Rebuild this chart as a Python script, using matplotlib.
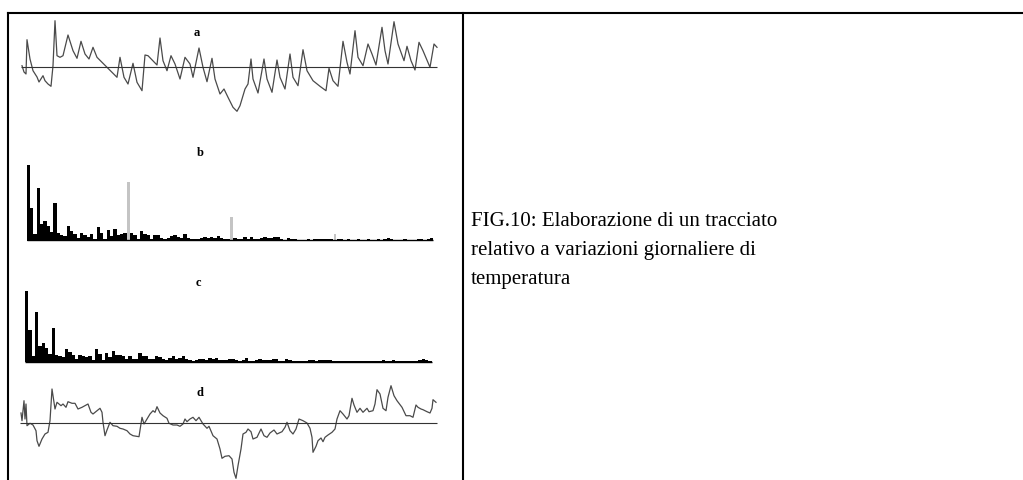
import matplotlib
matplotlib.use("Agg")
import matplotlib.pyplot as plt
from matplotlib.lines import Line2D

# (a) daily temperature record, anomaly around mean
days_a = [1, 3, 5, 6, 9, 12, 16, 18, 22, 24, 27, 30, 32, 34, 36, 39, 42, 47, 52, 56,
          60, 64, 68, 72, 76, 86, 96, 99, 103, 107, 112, 116, 121, 124, 127, 136, 139,
          142, 146, 150, 154, 159, 164, 169, 172, 178, 182, 186, 191, 194, 199, 203,
          207, 212, 216, 219, 224, 227, 230, 232, 237, 243, 246, 251, 256, 259, 264,
          269, 272, 277, 282, 286, 292, 299, 305, 308, 312, 317, 322, 326, 329, 334,
          337, 342, 347, 351, 355, 361, 364, 367, 373, 377, 383, 386, 390, 394, 398,
          402, 409, 413, 416]
temp_a = [1.3, -5, -7, 27.3, 8, -3.7, -10, -15, -8.7, -13.7, -17, -19.3, 1.3, 46.3,
          11.3, 9.7, 11.3, 32, 16.3, 8.7, 25.7, 13, 8, 19.7, 9.7, -0.3, -10.3, 9.7,
          -10.3, -17, 3.7, -15.3, -23.7, 12, 11.3, 2, 29, 6.3, -3.7, 11.3, 3, -12,
          9.7, 3, -10.3, 19, -0.3, -14.7, 8.7, -12, -27, -22, -30.3, -40.3, -44.3,
          -38.7, -22, -17, 8, -12, -26, 8, -12, -25.3, 7, -10.3, -22, 13, -10.3,
          -18.7, 17.3, -3.7, -13.7, -19.3, -23.7, -1.3, -13.7, -19.3, 25.7, 4.7, -7,
          36.3, 9.7, 1.3, 23, 13, 2, 39.7, 16.3, 3, 45.3, 23, 6.3, 20.7, 6.3, -3,
          24.7, 16.3, -0.3, 23, 19.7]

# (b) spectrum of the record, grey = periodic harmonics
spec_b = [76, 33, 7, 53, 17, 20, 15, 9, 38, 8, 6, 5, 15, 10, 7, 3, 8, 6, 4, 7,
          2, 14, 8, 2, 11, 5, 12, 6, 7, 8, 4, 8, 6, 2, 10, 7, 6, 2, 6, 6,
          3, 2, 3, 5, 6, 4, 3, 7, 3, 2, 2, 2, 3, 4, 3, 4, 3, 5, 3, 2,
          2, 2, 3, 2, 2, 4, 2, 4, 2, 2, 3, 4, 3, 3, 4, 4, 2, 1, 3, 2,
          2, 1, 1, 1, 2, 1, 2, 2, 2, 2, 2, 2, 1, 2, 2, 1, 2, 1, 1, 2,
          1, 1, 2, 1, 1, 2, 1, 2, 3, 2, 1, 1, 1, 2, 1, 1, 1, 2, 2, 1,
          2, 3]
harm_idx = [30, 61, 92]
harm_val = [59, 24, 7]

# (c) spectrum after removing the harmonics
spec_c = [71, 32, 6, 50, 16, 19, 14, 8, 34, 7, 6, 5, 13, 10, 7, 3, 7, 6, 5, 6,
          2, 13, 8, 2, 9, 5, 11, 7, 7, 6, 3, 6, 3, 3, 9, 6, 6, 3, 3, 6,
          5, 3, 2, 4, 6, 3, 4, 6, 3, 2, 1, 2, 3, 3, 2, 4, 3, 4, 2, 2,
          2, 3, 3, 2, 1, 2, 4, 1, 1, 2, 3, 2, 2, 2, 3, 3, 1, 1, 3, 2,
          1, 1, 1, 1, 1, 2, 2, 1, 2, 2, 2, 2, 1, 1, 1, 1, 1, 1, 1, 1,
          1, 1, 1, 1, 1, 1, 1, 2, 1, 1, 2, 1, 1, 1, 1, 1, 1, 1, 2, 3,
          2, 1]

# (d) reconstructed (filtered) record
days_d = [0, 1, 3, 4, 5, 6, 9, 12, 15, 16, 18, 21, 24, 27, 29, 31, 34, 36, 40, 42,
          45, 47, 51, 54, 57, 61, 64, 67, 70, 72, 76, 79, 81, 82, 84, 86, 89, 92,
          96, 99, 102, 106, 109, 112, 118, 121, 123, 126, 129, 132, 134, 136, 139,
          142, 146, 148, 152, 156, 159, 162, 164, 166, 169, 172, 175, 178, 182, 186,
          188, 192, 196, 199, 201, 204, 208, 211, 213, 215, 217, 220, 222, 225, 227,
          230, 232, 236, 240, 243, 246, 249, 253, 256, 261, 264, 266, 269, 272, 275,
          278, 282, 286, 289, 291, 292, 295, 297, 300, 302, 304, 307, 311, 314, 316,
          319, 322, 326, 328, 331, 333, 336, 339, 342, 346, 348, 352, 354, 356, 359,
          362, 365, 367, 370, 373, 376, 381, 385, 389, 392, 395, 397, 400, 402, 406,
          409, 411, 412, 415]
temp_d = [10, 2.3, 22.3, 4, 19, -2.7, -0.3, -2, -7.7, -17.7, -23.3, -16, -11, -9.3,
          2.3, 34, 14, 20.7, 17.3, 19, 15.7, 21.3, 19.7, 19.7, 14, 15.7, 17.3, 19,
          10.7, 9, 12.3, 14.7, 10.7, 0.7, -12.7, -7, 0.7, -2.7, -3.3, -5.3, -6, -7.7,
          -11, -12.7, -13.7, 5.7, -1, 4, 9, 12.3, 10.7, 16.3, 10, 7.3, 4.7, -0.3, -2,
          -2, -3.3, -1, 4, 1.3, 4, 5.7, 2.3, 5.7, -1, -5.3, -3.3, -12.7, -16, -26,
          -35.3, -33.3, -32.7, -36, -49.3, -55.3, -42.7, -26, -11, -9.3, -6, -8.7,
          -16, -14.3, -6, -12.7, -14.3, -10, -7, -11, -8.7, -4.3, 0.7, -7.7, -11, -6,
          4, 2.3, 0, -5.3, -14.3, -29.3, -23.3, -17.7, -15, -18.7, -14.3, -12, -9.3,
          -6, 4, 12.3, 9, 4, 7.3, 24.7, 18, 10.7, 14.7, 10.7, 14.7, 11.3, 12.3, 19,
          33.3, 29, 14.7, 12.3, 25.7, 37.3, 27.3, 22.3, 15.7, 7.3, 7.3, 5.7, 18, 15.7,
          14, 13.3, 11.3, 10, 14.7, 23.3, 20.7]

caption = ["FIG.10: Elaborazione di un tracciato",
           "relativo a variazioni giornaliere di",
           "temperatura"]

W, H = 1023, 481
fig = plt.figure(figsize=(W / 100, H / 100), dpi=100)


def px_axes(x0, y0, x1, y1):
    ax = fig.add_axes([x0 / W, 1 - y1 / H, (x1 - x0) / W, (y1 - y0) / H])
    ax.axis("off")
    return ax


def px_line(xs, ys):
    fig.add_artist(Line2D([x / W for x in xs], [1 - y / H for y in ys],
                          transform=fig.transFigure, color="black", lw=1.5))


trace = "#4a4a4a"
serif = ["Liberation Serif", "DejaVu Serif"]

# a
ax = px_axes(15, 15, 445, 125)
ax.plot(days_a, temp_a, color=trace, lw=0.9)
ax.hlines(0, 0, 416, color="#333333", lw=0.8)
ax.set_xlim(-6, 424)
ax.set_ylim(-57, 53)

# b
ax = px_axes(15, 145, 445, 245)
idx = list(range(len(spec_b)))
ax.bar(idx, spec_b, width=1.0, color="black", linewidth=0)
ax.bar(harm_idx, harm_val, width=0.8, color="#c4c4c4", linewidth=0)
ax.hlines(0.5, -0.5, len(spec_b) - 0.5, color="black", lw=1.0)
ax.set_xlim(-4.0, 125.0)
ax.set_ylim(-3.3, 96.7)

# c
ax = px_axes(15, 270, 445, 366)
idx = list(range(len(spec_c)))
ax.bar(idx, spec_c, width=1.0, color="black", linewidth=0)
ax.hlines(0.5, -0.5, len(spec_c) - 0.5, color="black", lw=1.0)
ax.set_xlim(-3.5, 125.5)
ax.set_ylim(-2.7, 93.3)

# d
ax = px_axes(15, 380, 445, 481)
ax.plot(days_d, temp_d, color=trace, lw=0.9)
ax.hlines(0, -1, 416, color="#333333", lw=0.8)
ax.set_xlim(-6, 424)
ax.set_ylim(-57, 44)

for lab, (x, y) in zip("abcd", [(197, 33), (200, 153), (198, 283), (200, 393)]):
    fig.text(x / W, 1 - y / H, lab, family=serif, fontweight="bold", fontsize=9,
             ha="center", va="center")

# table frame
px_line([8, W], [14, 14])
px_line([8, 8], [14, H])
px_line([463, 463], [14, H])

for i, line in enumerate(caption):
    fig.text(471 / W, 1 - (226 + 29 * i) / H, line, family=serif, fontsize=15,
             ha="left", va="baseline")

fig.savefig("out.png", dpi=100)
